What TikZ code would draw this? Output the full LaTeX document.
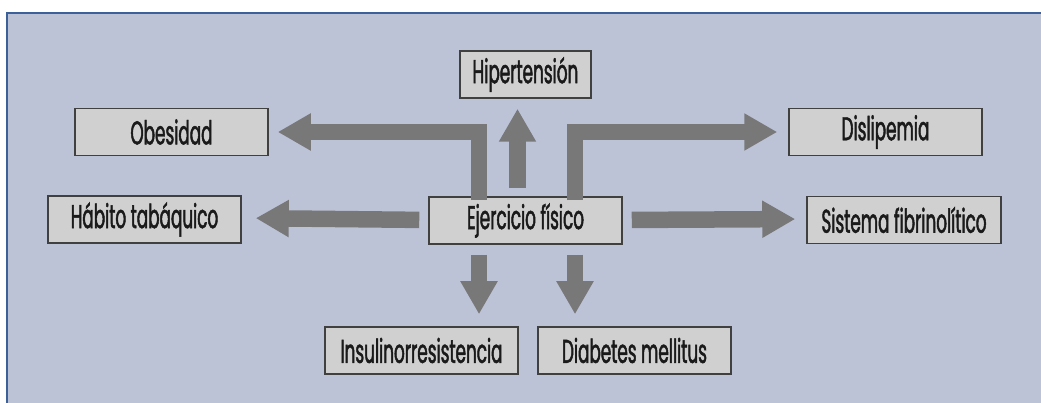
\documentclass[tikz,border=0pt]{standalone}
\usepackage{fontspec}
\newfontfamily\boxfont{Poppins}[FakeStretch=0.51,FakeBold=1.4]
\usetikzlibrary{arrows.meta}
\definecolor{panel}{HTML}{BDC3D7}
\definecolor{panelline}{HTML}{3C619A}
\definecolor{boxfill}{HTML}{D0D0D0}
\definecolor{boxline}{HTML}{404040}
\definecolor{arrowgray}{HTML}{787878}
\definecolor{textcol}{HTML}{1A1A1A}
\tikzset{
  box/.style={draw=boxline, fill=boxfill, line width=1.5pt, minimum width=193pt, minimum height=47pt, inner sep=0pt, text=textcol, font=\boxfont\fontsize{33}{35}\selectfont},
  bigarrow/.style={draw=arrowgray, line width=16.5pt, line join=miter, -{Triangle[length=33pt,width=35pt]}},
}
\begin{document}
\begin{tikzpicture}[x=1pt,y=-1pt]
\useasboundingbox (0,0) rectangle (1041,403);
\fill[white] (0,0) rectangle (1041,403);
\fill[panel] (7,13) rectangle (1045,410);
\draw[panelline, line width=2pt] (7,410) -- (7,13) -- (1045,13);

\node[box] (ej)  at (525.5,220.5) {Ejercicio físico};
\node[box, minimum width=131pt] (hip) at (525.5,74.5) {Hipertensión};
\node[box] (ob)  at (171.5,132) {Obesidad};
\node[box] (dis) at (885.5,132) {Dislipemia};
\node[box] (hab) at (144.5,219.5) {Hábito tabáquico};
\node[box, minimum width=194pt] (sis) at (904,220) {Sistema fibrinolítico};
\node[box] (ins) at (421.5,350.5) {Insulinorresistencia};
\node[box] (dia) at (634.5,350.5) {Diabetes mellitus};

\draw[bigarrow, shorten <=8pt, shorten >=10pt] (ej.north -| hip.south) ++(-8,0) coordinate (hs) (hs) -- (hs |- hip.south);
\draw[bigarrow, shorten >=9pt] ([xshift=-46.5pt,yshift=-4pt]ej.north) |- (ob.east);
\draw[bigarrow, shorten >=11pt] ([xshift=49.5pt,yshift=-4pt]ej.north) |- (dis.west);
\draw[bigarrow, shorten <=9pt, shorten >=14pt] ([yshift=0.5pt]ej.west) -- ([yshift=1.5pt]hab.east);
\draw[bigarrow, shorten <=9pt, shorten >=11pt] ([yshift=0.5pt]ej.east) -- ([yshift=1pt]sis.west);
\draw[bigarrow, shorten <=10pt, shorten >=12pt] ([xshift=-46.5pt]ej.south) -- ([xshift=-46.5pt]ej.south |- ins.north);
\draw[bigarrow, shorten <=10pt, shorten >=12pt] ([xshift=49.5pt]ej.south) -- ([xshift=49.5pt]ej.south |- dia.north);
\end{tikzpicture}
\end{document}
